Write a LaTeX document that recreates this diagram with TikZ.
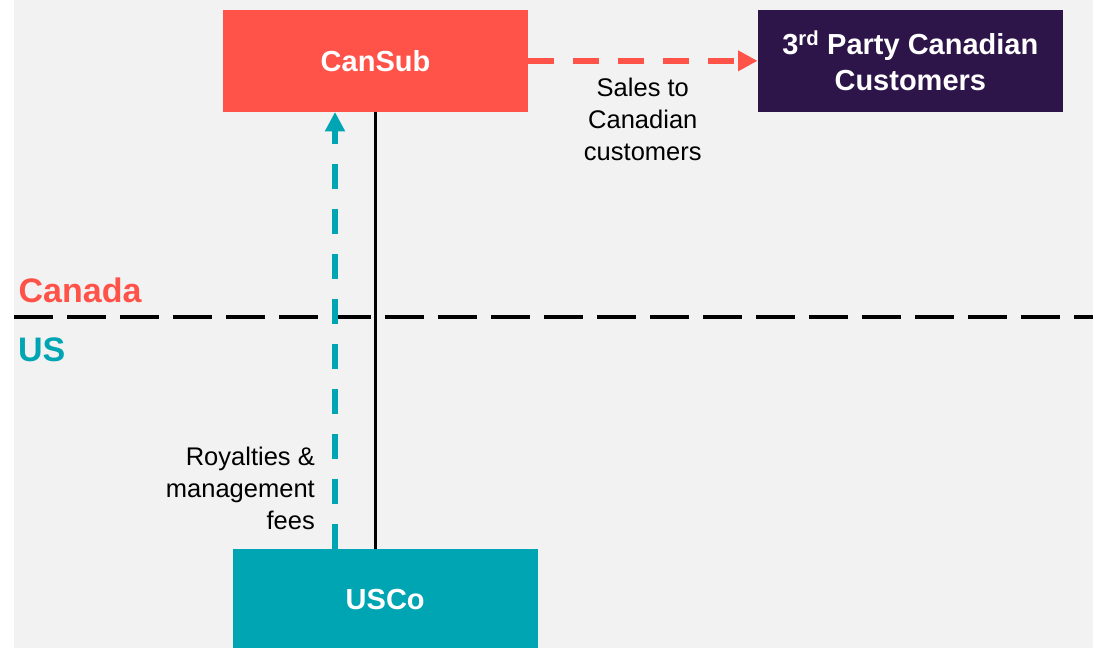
\documentclass[tikz,border=0pt]{standalone}
\usepackage{fontspec}
\setmainfont{Liberation Sans}
\usepackage{tikz}
\usetikzlibrary{arrows.meta,calc}
\definecolor{canred}{HTML}{FF5349}
\definecolor{usteal}{HTML}{00A5B3}
\definecolor{thirdpurple}{HTML}{2D1449}
\definecolor{bggray}{HTML}{F2F2F2}

\begin{document}
\begin{tikzpicture}[x=1pt,y=-1pt,
  entity/.style={rectangle,inner sep=0pt,minimum width=305pt,minimum height=101.7pt,
    text=white,align=center,font=\fontsize{29}{36.7}\selectfont\bfseries},
  flowlabel/.style={inner sep=0pt,font=\fontsize{25.5}{31.7}\selectfont},
  country/.style={inner sep=0pt,anchor=base west,font=\fontsize{34}{40}\selectfont\bfseries}]
\useasboundingbox (0,0) rectangle (1093,648);
\fill[white] (-2,-2) rectangle (14,650);
\fill[bggray] (14,-2) rectangle (1096,651);
\node[entity,fill=canred] (cansub) at (375.5,60.85) {CanSub};
\node[entity,fill=thirdpurple] (thirdparty) at (910.3,60.85) {3\textsuperscript{rd} Party Canadian\\Customers};
\node[entity,fill=usteal] (usco) at (385.2,599.85) {USCo};
\coordinate (borderw) at (14,316.7);
\coordinate (bordere) at (1096,316.7);
\draw[line width=4pt,dash pattern=on 39pt off 14pt] (borderw) -- (bordere);
\node[country,text=canred] (canada) at (18.5,302) {Canada};
\node[country,text=usteal] (us) at (18,361.7) {US};
\draw[line width=2.7pt] (cansub.south) -- (cansub.south |- usco.north);
\draw[usteal,line width=5.7pt,dash pattern=on 25pt off 20pt,-{Triangle[length=19.5pt,width=19pt]}]
  ([xshift=-40.5pt]cansub.south |- usco.north) -- ([xshift=-40.5pt]cansub.south);
\draw[canred,line width=6pt,dash pattern=on 26pt off 19pt,-{Triangle[length=19.5pt,width=19.5pt]}]
  (cansub.east) -- (thirdparty.west);
\node[flowlabel,anchor=north,align=center] (saleslabel) at (642.8,78) {Sales to\\Canadian\\customers};
\node[flowlabel,anchor=north east,align=right] (feeslabel) at (315,447.3) {Royalties \&\\management\\fees};
\end{tikzpicture}
\end{document}
